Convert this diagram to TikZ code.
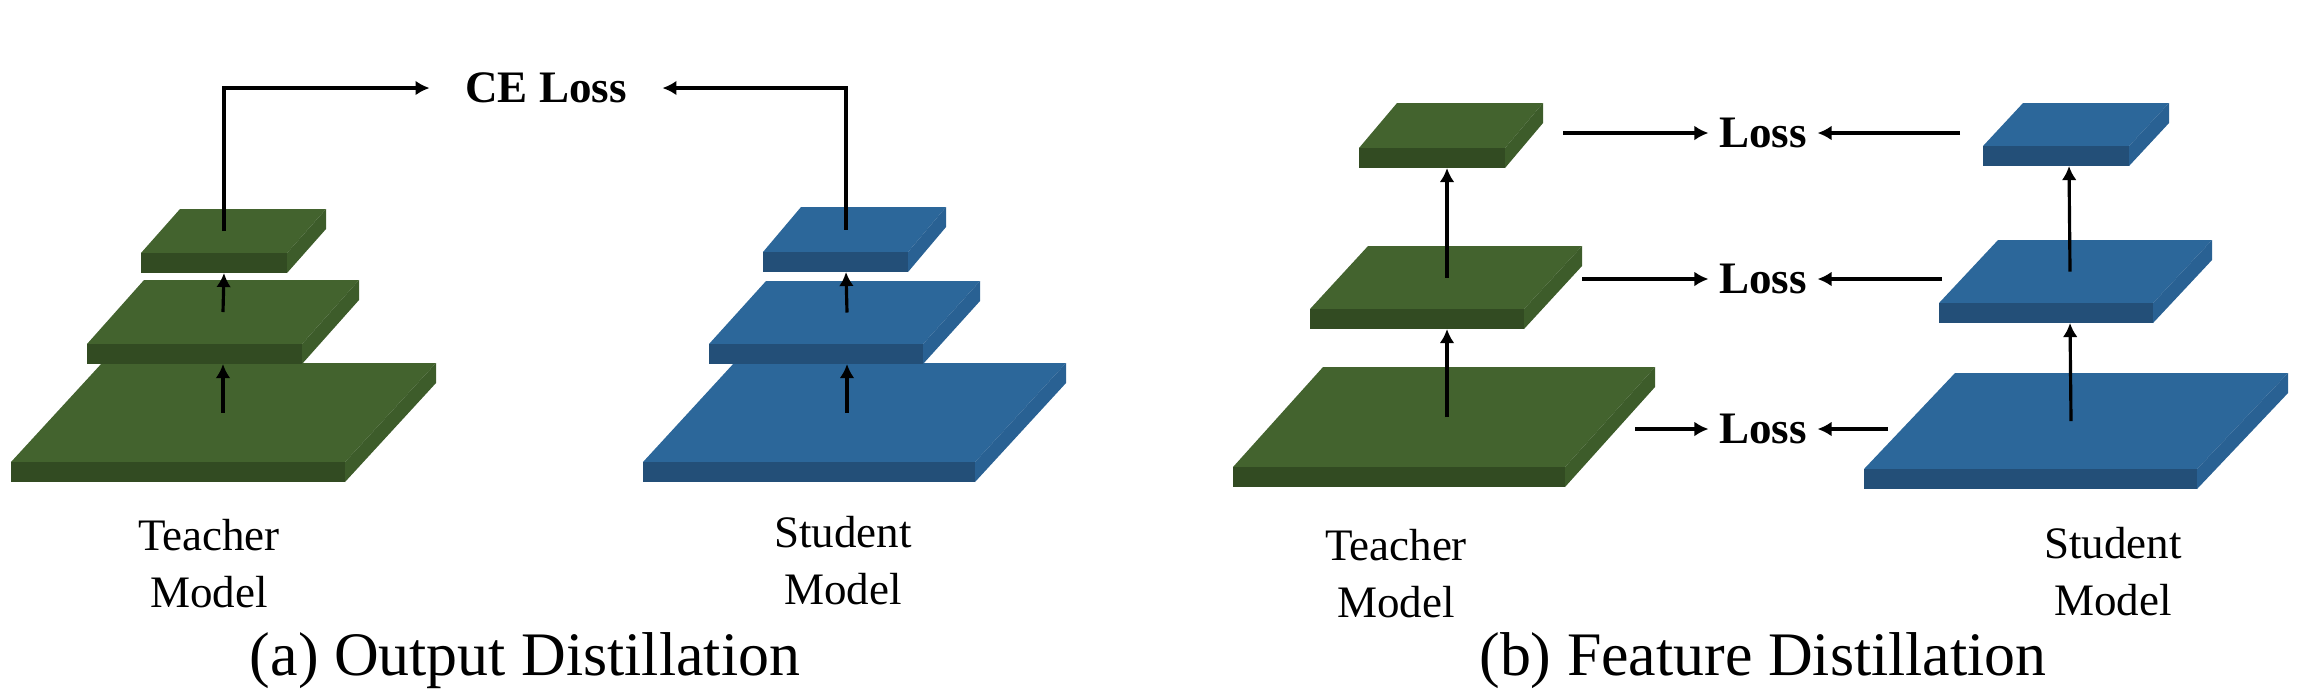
\documentclass[tikz,border=0pt]{standalone}
\usepackage{fontspec}
\setmainfont{Liberation Serif}
\usetikzlibrary{arrows.meta}

\definecolor{topgreen}{RGB}{67,99,46}
\definecolor{frontgreen}{RGB}{50,75,34}
\definecolor{sidegreen}{RGB}{61,92,42}
\definecolor{topblue}{RGB}{44,103,154}
\definecolor{frontblue}{RGB}{35,79,120}
\definecolor{sideblue}{RGB}{41,97,147}

\begin{document}
\begin{tikzpicture}[x=0.01cm,y=-0.01cm,
    conn/.style={-{Latex[length=4pt,width=4.2pt]},line width=0.9pt},
    modelname/.style={align=center,font=\fontsize{12.8pt}{16.2pt}\selectfont},
    loss/.style={font=\fontsize{12.8pt}{15pt}\selectfont\bfseries,inner xsep=0.1cm},
    subcap/.style={anchor=base,font=\fontsize{17.6pt}{21pt}\selectfont}]
    \useasboundingbox (0,0) rectangle (2304,690);

    % layers: name/front-left x/front y/width/depth x/depth y/arrow x/colour
    \foreach \n/\x/\y/\w/\dx/\dy/\ax/\col in {
        t1/11/462/334/91/99/223/green, t2/87/344/215/57/64/223/green, t3/141/253/146/39/44/224/green,
        s1/643/462/332/91/99/847/blue, s2/709/344/214/57/63/847/blue, s3/763/252/145/38/45/846/blue,
        ft1/1233/467/332/90/100/1447/green, ft2/1310/309/214/58/63/1447/green, ft3/1359/148/146/38/45/1447/green,
        fs1/1864/469/333/91/96/2071/blue, fs2/1939/303/214/59/63/2070/blue, fs3/1983/146/146/40/43/2069/blue} {
        \fill[fill=top\col] (\x,\y) -- ++(\w,0) -- ++(\dx,-\dy) -- ++(-\w,0) -- cycle;
        \fill[fill=front\col] (\x,\y) rectangle ++(\w,20);
        \fill[fill=side\col] (\x+\w,\y) -- ++(\dx,-\dy) -- ++(0,20) -- ++(-\dx,\dy) -- cycle;
        \coordinate (\n-out) at (\ax,\y-\dy/2);
        \coordinate (\n-in) at (\ax,\y+20);
    }

    \foreach \a/\b in {t1/t2,t2/t3,s1/s2,s2/s3,ft1/ft2,ft2/ft3,fs1/fs2,fs2/fs3}
        \draw[conn] (\a-out) -- (\b-in);

    \node[loss,inner xsep=0.35cm] (ce) at (546,88) {CE Loss};
    \draw[conn] (t3-out) |- (ce);
    \draw[conn] (s3-out) |- (ce);

    \foreach \i/\y/\tx/\sx in {1/429/1635/1888,2/279/1582/1942,3/133/1563/1960} {
        \node[loss] (loss\i) at (1763,\y) {Loss};
        \coordinate (ft\i-r) at (\tx,\y);
        \coordinate (fs\i-l) at (\sx,\y);
        \draw[conn] (ft\i-r) -- (loss\i);
        \draw[conn] (fs\i-l) -- (loss\i);
    }

    \node[modelname] (tname-a) at (209,564) {Teacher\\Model};
    \node[modelname] (sname-a) at (843,561) {Student\\Model};
    \node[modelname] (tname-b) at (1396,574) {Teacher\\Model};
    \node[modelname] (sname-b) at (2113,572) {Student\\Model};

    \node[subcap] (cap-a) at (525,675) {(a) Output Distillation};
    \node[subcap] (cap-b) at (1763,675) {(b) Feature Distillation};
\end{tikzpicture}
\end{document}
